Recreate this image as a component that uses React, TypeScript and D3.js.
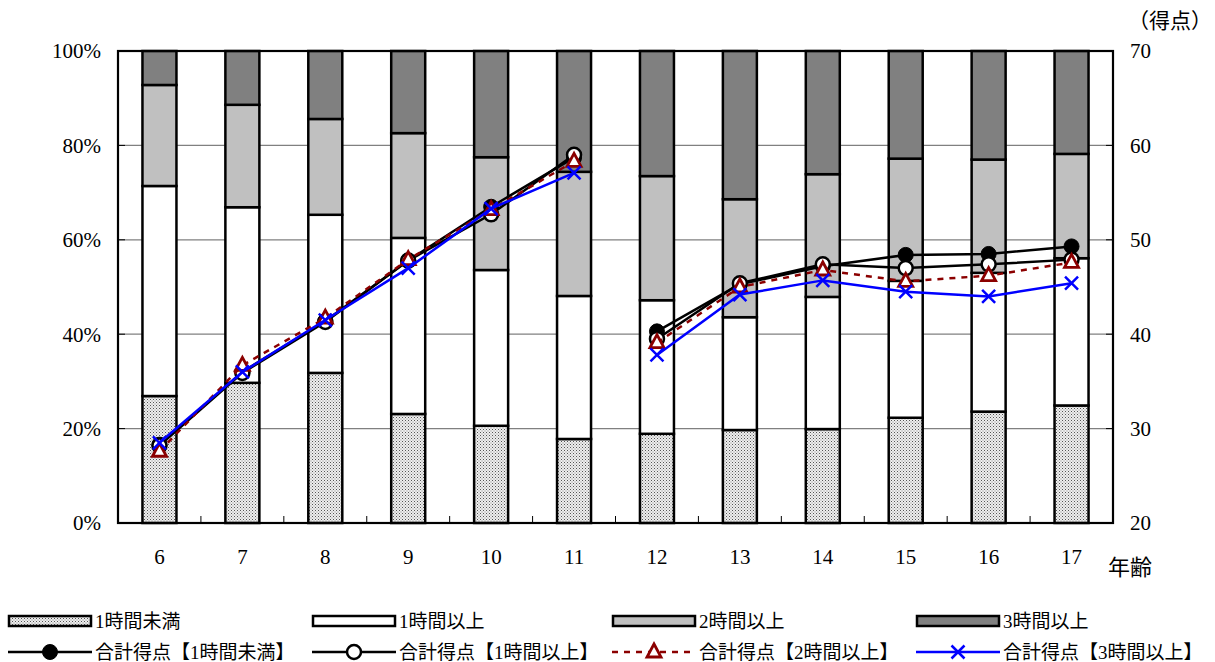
import React from "react";
import * as d3 from "d3";

const ages = ["6", "7", "8", "9", "10", "11", "12", "13", "14", "15", "16", "17"];
const under1h = [26.9, 29.7, 31.8, 23.1, 20.6, 17.8, 18.9, 19.7, 19.9, 22.3, 23.6, 24.9];
const over1h = [44.5, 37.2, 33.5, 37.3, 33.0, 30.3, 28.3, 23.9, 28.0, 29.0, 29.4, 31.2];
const over2h = [21.4, 21.7, 20.3, 22.2, 23.9, 26.3, 26.3, 25.0, 26.0, 25.9, 24.0, 22.1];
const over3h = [7.2, 11.4, 14.4, 17.4, 22.5, 25.6, 26.5, 31.4, 26.1, 22.8, 23.0, 21.8];

const scoreUnder1h = [28.3, 36.0, 41.4, 47.8, 53.5, 58.7, 40.3, 45.3, 47.2, 48.4, 48.5, 49.3];
const scoreOver1h = [28.2, 35.9, 41.3, 47.8, 52.7, 59.0, 39.5, 45.4, 47.4, 47.0, 47.4, 47.9];
const scoreOver2h = [27.6, 36.7, 41.7, 47.9, 53.2, 58.3, 39.1, 45.0, 46.8, 45.6, 46.2, 47.6];
const scoreOver3h = [28.5, 36.0, 41.5, 47.0, 53.3, 57.1, 37.8, 44.2, 45.7, 44.5, 44.0, 45.4];

const segments = [["6", "7", "8", "9", "10", "11"], ["12", "13", "14", "15", "16", "17"]];
const leftTicks = [0, 20, 40, 60, 80, 100];
const rightTicks = [20, 30, 40, 50, 60, 70];

const barSeries = [
  { name: "1時間未満", values: under1h, fill: "url(#stipple)" },
  { name: "1時間以上", values: over1h, fill: "#ffffff" },
  { name: "2時間以上", values: over2h, fill: "#c0c0c0" },
  { name: "3時間以上", values: over3h, fill: "#808080" },
];

const lineSeries = [
  { name: "合計得点【1時間未満】", values: scoreUnder1h, color: "#000000", marker: "dot", dash: "" },
  { name: "合計得点【1時間以上】", values: scoreOver1h, color: "#000000", marker: "circle", dash: "" },
  { name: "合計得点【2時間以上】", values: scoreOver2h, color: "#8b0000", marker: "triangle", dash: "6,6" },
  { name: "合計得点【3時間以上】", values: scoreOver3h, color: "#0000ff", marker: "cross", dash: "" },
];

const FONT = "'Liberation Serif', 'Noto Sans CJK JP', serif";
const L = 118, R = 1113, T = 51, B = 523;

function Marker({ type, x, y, color }: { type: string; x: number; y: number; color: string }) {
  if (type === "dot") return <circle cx={x} cy={y} r={7.5} fill="#000" stroke="#000" strokeWidth={1} />;
  if (type === "circle") return <circle cx={x} cy={y} r={7} fill="#fff" stroke="#000" strokeWidth={2.5} />;
  if (type === "triangle")
    return (
      <path
        d={`M${x},${y - 8} L${x + 7},${y + 5} L${x - 7},${y + 5} Z`}
        fill="#fff"
        stroke={color}
        strokeWidth={2.8}
        strokeLinejoin="miter"
      />
    );
  return (
    <path
      d={`M${x - 6.5},${y - 6.5} L${x + 6.5},${y + 6.5} M${x + 6.5},${y - 6.5} L${x - 6.5},${y + 6.5}`}
      stroke={color}
      strokeWidth={2.5}
      fill="none"
    />
  );
}

export default function App() {
  const x = d3.scaleBand<string>().domain(ages).range([L, R]).padding(0);
  const bw = x.bandwidth() * 0.41;
  const yP = d3.scaleLinear().domain([0, 100]).range([B, T]);
  const yS = d3.scaleLinear().domain([20, 70]).range([B, T]);
  const cx = (a: string) => (x(a) as number) + x.bandwidth() / 2;

  const stacked = ages.map((a, i) => {
    let acc = 0;
    return barSeries.map((s) => {
      const y0 = acc;
      acc += s.values[i];
      return { a, y0, y1: Math.min(acc, 100), fill: s.fill };
    });
  });

  const lineGen = d3
    .line<{ a: string; v: number }>()
    .x((d) => cx(d.a))
    .y((d) => yS(d.v));

  const legendCols = [8, 312, 612, 916];

  return (
    <svg
      width={1215}
      height={662}
      style={{ position: "absolute", left: 0, top: 0, background: "#fff" }}
      fontFamily={FONT}
    >
      <defs>
        <pattern id="stipple" width={3} height={3} patternUnits="userSpaceOnUse">
          <rect width={3} height={3} fill="#eeeeee" />
          <rect x={0} y={0} width={1} height={1} fill="#555" />
          <rect x={1.5} y={1.5} width={1} height={1} fill="#888" />
        </pattern>
      </defs>
      <rect x={0} y={0} width={1215} height={662} fill="#fff" />

      {/* gridlines */}
      {leftTicks.filter((t) => t > 0 && t < 100).map((t) => (
        <line key={t} x1={L} x2={R} y1={yP(t)} y2={yP(t)} stroke="#808080" strokeWidth={1.2} />
      ))}

      {/* bars */}
      {stacked.map((segs) =>
        segs.map((s, j) => (
          <rect
            key={s.a + "-" + j}
            x={cx(s.a) - bw / 2}
            y={yP(s.y1)}
            width={bw}
            height={yP(s.y0) - yP(s.y1)}
            fill={s.fill}
            stroke="#000"
            strokeWidth={2.5}
          />
        ))
      )}

      {/* axis ticks */}
      {leftTicks.map((t) => (
        <line key={"lt" + t} x1={L} x2={L + 7} y1={yP(t)} y2={yP(t)} stroke="#000" strokeWidth={1} />
      ))}
      {rightTicks.map((t) => (
        <line key={"rt" + t} x1={R - 7} x2={R} y1={yS(t)} y2={yS(t)} stroke="#000" strokeWidth={1} />
      ))}
      {ages.slice(1).map((a) => (
        <line key={"xt" + a} x1={x(a) as number} x2={x(a) as number} y1={B} y2={B - 7} stroke="#000" strokeWidth={1} />
      ))}

      {/* plot border */}
      <rect x={L} y={T} width={R - L} height={B - T} fill="none" stroke="#000" strokeWidth={2.2} />

      {/* lines */}
      {lineSeries.map((s) => (
        <g key={s.name}>
          {segments.map((seg, k) => (
            <path
              key={k}
              d={lineGen(seg.map((a) => ({ a, v: s.values[ages.indexOf(a)] }))) || ""}
              fill="none"
              stroke={s.color}
              strokeWidth={2.5}
              strokeDasharray={s.dash}
            />
          ))}
          {ages.map((a, i) => (
            <Marker key={a} type={s.marker} x={cx(a)} y={yS(s.values[i])} color={s.color} />
          ))}
        </g>
      ))}

      {/* left labels */}
      {leftTicks.map((t) => (
        <text key={"ll" + t} x={101} y={yP(t)} dy="0.35em" textAnchor="end" fontSize={21} fill="#000">
          {t}%
        </text>
      ))}
      {/* right labels */}
      {rightTicks.map((t) => (
        <text key={"rl" + t} x={1130} y={yS(t)} dy="0.35em" textAnchor="start" fontSize={21} fill="#000">
          {t}
        </text>
      ))}
      <text x={1212} y={21} dy="0.35em" textAnchor="end" fontSize={21} fill="#000">
        （得点）
      </text>

      {/* x labels */}
      {ages.map((a) => (
        <text key={"xl" + a} x={cx(a)} y={557} dy="0.35em" textAnchor="middle" fontSize={21} fill="#000">
          {a}
        </text>
      ))}
      <text x={1130} y={567} dy="0.35em" textAnchor="middle" fontSize={22} fill="#000">
        年齢
      </text>

      {/* legend row 1 */}
      {barSeries.map((s, i) => (
        <g key={"lg1" + i}>
          <rect x={legendCols[i] + 1} y={616} width={82} height={10} fill={s.fill} stroke="#000" strokeWidth={2.5} />
          <text x={legendCols[i] + 87} y={621} dy="0.35em" fontSize={19} fill="#000">
            {s.name}
          </text>
        </g>
      ))}
      {/* legend row 2 */}
      {lineSeries.map((s, i) => (
        <g key={"lg2" + i}>
          <line
            x1={legendCols[i]}
            x2={legendCols[i] + 84}
            y1={652}
            y2={652}
            stroke={s.color}
            strokeWidth={2.5}
            strokeDasharray={s.dash}
          />
          <Marker type={s.marker} x={legendCols[i] + 42} y={652} color={s.color} />
          <text x={legendCols[i] + 87} y={652} dy="0.35em" fontSize={19} fill="#000">
            {s.name}
          </text>
        </g>
      ))}
    </svg>
  );
}
